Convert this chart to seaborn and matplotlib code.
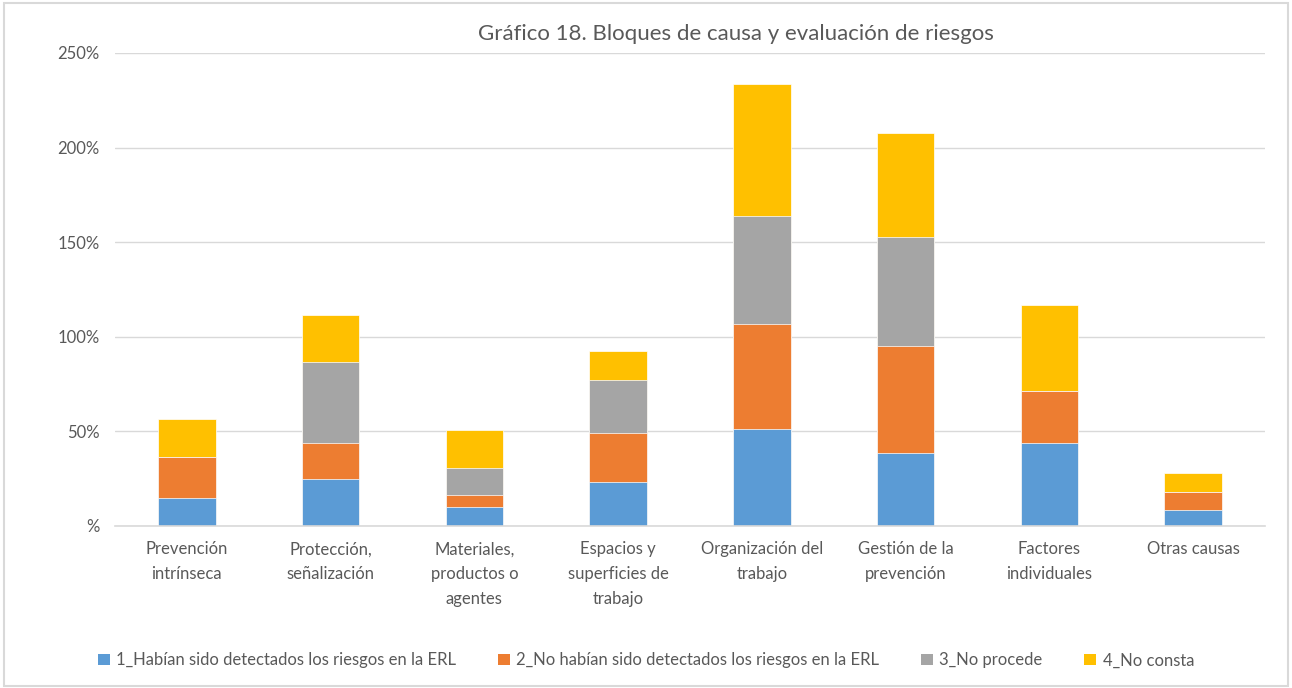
import numpy as np
import pandas as pd
import matplotlib
matplotlib.use("Agg")
import matplotlib.pyplot as plt
from matplotlib.patches import Patch, Rectangle
from matplotlib.ticker import FuncFormatter
import seaborn as sns

# Data (percent)
categories = [
    "Prevención\nintrínseca",
    "Protección,\nseñalización",
    "Materiales,\nproductos o\nagentes",
    "Espacios y\nsuperficies de\ntrabajo",
    "Organización del\ntrabajo",
    "Gestión de la\nprevención",
    "Factores\nindividuales",
    "Otras causas",
]
detectados = [14.6, 24.8, 10.0, 23.4, 51.1, 38.4, 43.9, 8.5]
no_detectados = [21.9, 19.1, 6.4, 25.8, 55.5, 56.9, 27.6, 9.6]
no_procede = [0.0, 43.0, 14.1, 28.0, 57.4, 57.4, 0.0, 0.0]
no_consta = [20.1, 24.6, 20.1, 15.3, 69.6, 55.0, 45.3, 9.9]

series_names = [
    "1_Habían sido detectados los riesgos en la ERL",
    "2_No habían sido detectados los riesgos en la ERL",
    "3_No procede",
    "4_No consta",
]
colors = ["#5B9BD5", "#ED7D31", "#A5A5A5", "#FFC000"]

df = pd.DataFrame(
    {
        "categoria": categories,
        series_names[0]: detectados,
        series_names[1]: no_detectados,
        series_names[2]: no_procede,
        series_names[3]: no_consta,
    }
)

# cumulative totals, so bars can be overlaid from the tallest down
cum = df[series_names].cumsum(axis=1)

sns.set_style("white")
plt.rcParams["font.family"] = ["Lato", "DejaVu Sans"]

fig = plt.figure(figsize=(12.92, 6.88), dpi=100)
ax = fig.add_axes([0.089, 0.2355, 0.89, 0.6875])

for name, color in reversed(list(zip(series_names, colors))):
    sns.barplot(
        x=df["categoria"],
        y=cum[name],
        color=color,
        width=0.4,
        saturation=1,
        edgecolor="white",
        linewidth=0.5,
        ax=ax,
    )

ax.set_ylim(0, 250)
ax.set_yticks([0, 50, 100, 150, 200, 250])
ax.yaxis.set_major_formatter(FuncFormatter(lambda v, p: "%" if v == 0 else f"{v:.0f}%"))
ax.yaxis.grid(True, color="#d9d9d9", linewidth=1)
ax.set_axisbelow(True)
for s in ["top", "right", "left"]:
    ax.spines[s].set_visible(False)
ax.spines["bottom"].set_color("#d9d9d9")
ax.spines["bottom"].set_linewidth(1.2)
ax.tick_params(axis="both", length=0, colors="#595959", labelsize=12)
ax.tick_params(axis="x", pad=11)
ax.tick_params(axis="y", pad=11)
ax.set_xlabel("")
ax.set_ylabel("")
for lbl in ax.get_xticklabels():
    lbl.set_linespacing(1.7)

fig.text(0.5697, 0.9506, "Gráfico 18. Bloques de causa y evaluación de riesgos",
         ha="center", va="center", fontsize=16, color="#595959")

handles = [Patch(facecolor=c, edgecolor="none") for c in colors]
fig.legend(
    handles, series_names, loc="center", bbox_to_anchor=(0.5, 0.04), ncol=4,
    frameon=False, fontsize=12, labelcolor="#595959",
    handlelength=0.7, handleheight=0.7, handletextpad=0.4, columnspacing=2.5,
)

# light frame around the whole chart
fig.patches.append(Rectangle((0.003, 0.003), 0.994, 0.993, transform=fig.transFigure,
                             fill=False, edgecolor="#d9d9d9", linewidth=1.5))

plt.savefig("out.png", dpi=100)
